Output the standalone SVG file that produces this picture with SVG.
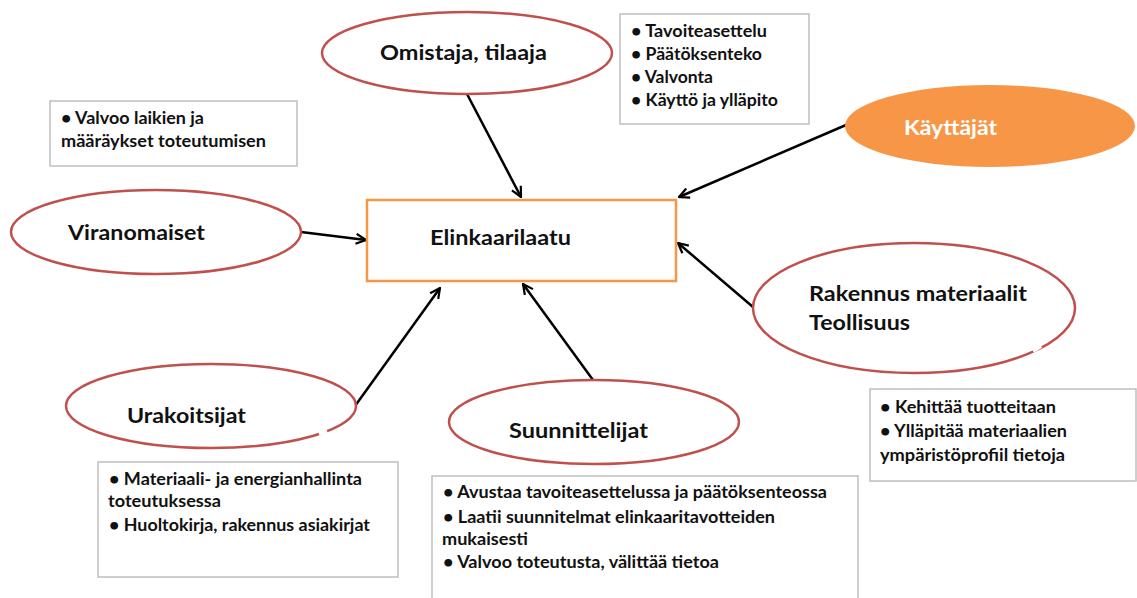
<svg xmlns="http://www.w3.org/2000/svg" width="1137" height="598" viewBox="0 0 1137 598">
  <defs>
    <marker id="open-arrow" viewBox="0 0 12 12" refX="11" refY="6" markerWidth="12" markerHeight="12" markerUnits="userSpaceOnUse" orient="auto">
      <path d="M1,1 L11,6 L1,11" fill="none" stroke="#000" stroke-width="2.2" stroke-linejoin="miter"/>
    </marker>
    <style>
      .actor { fill: #fff; stroke: #C0504D; stroke-width: 2.5; }
      .center { fill: #fff; stroke: #F79646; stroke-width: 2.5; }
      .note { fill: #fff; stroke: #BFBFBF; stroke-width: 1.5; }
      .label { font-family: Lato, "Open Sans", "Liberation Sans", sans-serif; font-weight: bold; font-size: 21px; fill: #111; }
      .small { font-family: Lato, "Open Sans", "Liberation Sans", sans-serif; font-weight: bold; font-size: 16.5px; fill: #111; }
      .link { stroke: #000; stroke-width: 2.5; fill: none; marker-end: url(#open-arrow); }
    </style>
  </defs>

  <rect width="1137" height="598" fill="#fff"/>

  <!-- connectors -->
  <g id="connectors">
    <line class="link" x1="467" y1="94" x2="521" y2="197"/>
    <line class="link" x1="846" y1="125" x2="679" y2="197"/>
    <line class="link" x1="301" y1="232" x2="366" y2="240"/>
    <line class="link" x1="753" y1="307" x2="678" y2="243"/>
    <line class="link" x1="355" y1="406" x2="440" y2="288"/>
    <line class="link" x1="593" y1="380" x2="523" y2="284"/>
  </g>

  <g id="elinkaarilaatu">
    <rect class="center" x="367" y="200" width="309" height="81"/>
    <text class="label" x="430" y="245" textLength="141" lengthAdjust="spacingAndGlyphs">Elinkaarilaatu</text>
  </g>

  <g id="omistaja">
    <ellipse class="actor" cx="467" cy="53" rx="145" ry="41"/>
    <text class="label" x="380" y="60" textLength="167" lengthAdjust="spacingAndGlyphs">Omistaja, tilaaja</text>
  </g>

  <g id="kayttajat">
    <ellipse cx="990" cy="126" rx="145" ry="41" fill="#F79646"/>
    <text class="label" x="904" y="135" style="fill:#fff" textLength="93" lengthAdjust="spacingAndGlyphs">Käyttäjät</text>
  </g>

  <g id="viranomaiset">
    <ellipse class="actor" cx="156" cy="232" rx="145" ry="42"/>
    <text class="label" x="68" y="240" textLength="137" lengthAdjust="spacingAndGlyphs">Viranomaiset</text>
  </g>

  <g id="rakennus">
    <ellipse class="actor" cx="914" cy="308" rx="161" ry="65"/>
    <line x1="1033" y1="351" x2="1041" y2="346" stroke="#fff" stroke-width="4"/>
    <text class="label" x="809" y="301" textLength="218" lengthAdjust="spacingAndGlyphs">Rakennus materiaalit</text>
    <text class="label" x="809" y="330" textLength="101" lengthAdjust="spacingAndGlyphs">Teollisuus</text>
  </g>

  <g id="urakoitsijat">
    <ellipse class="actor" cx="211" cy="406" rx="145" ry="42"/>
    <line x1="319" y1="434" x2="327" y2="431" stroke="#fff" stroke-width="4"/>
    <text class="label" x="127" y="423" textLength="119" lengthAdjust="spacingAndGlyphs">Urakoitsijat</text>
  </g>

  <g id="suunnittelijat">
    <ellipse class="actor" cx="594" cy="422" rx="145" ry="42"/>
    <text class="label" x="509" y="438" textLength="139" lengthAdjust="spacingAndGlyphs">Suunnittelijat</text>
  </g>

  <g id="note-omistaja">
    <rect class="note" x="620" y="14" width="189" height="110"/>
    <text class="small" x="631" y="37" textLength="136" lengthAdjust="spacingAndGlyphs">• Tavoiteasettelu</text>
    <text class="small" x="631" y="60" textLength="131" lengthAdjust="spacingAndGlyphs">• Päätöksenteko</text>
    <text class="small" x="631" y="83" textLength="82" lengthAdjust="spacingAndGlyphs">• Valvonta</text>
    <text class="small" x="631" y="106" textLength="147" lengthAdjust="spacingAndGlyphs">• Käyttö ja ylläpito</text>
  </g>

  <g id="note-viranomaiset">
    <rect class="note" x="50" y="101" width="247" height="65"/>
    <text class="small" x="61" y="124" textLength="143" lengthAdjust="spacingAndGlyphs">• Valvoo laikien ja</text>
    <text class="small" x="61" y="147" textLength="205" lengthAdjust="spacingAndGlyphs">määräykset toteutumisen</text>
  </g>

  <g id="note-rakennus">
    <rect class="note" x="870" y="389" width="266" height="92"/>
    <text class="small" x="880" y="413" textLength="176" lengthAdjust="spacingAndGlyphs">• Kehittää tuotteitaan</text>
    <text class="small" x="880" y="437" textLength="187" lengthAdjust="spacingAndGlyphs">• Ylläpitää materiaalien</text>
    <text class="small" x="880" y="461" textLength="185" lengthAdjust="spacingAndGlyphs">ympäristöprofiil tietoja</text>
  </g>

  <g id="note-urakoitsijat">
    <rect class="note" x="98" y="462" width="300" height="115"/>
    <text class="small" x="109" y="485" textLength="253" lengthAdjust="spacingAndGlyphs">• Materiaali- ja energianhallinta</text>
    <text class="small" x="108" y="507" textLength="113" lengthAdjust="spacingAndGlyphs">toteutuksessa</text>
    <text class="small" x="109" y="531" textLength="261" lengthAdjust="spacingAndGlyphs">• Huoltokirja, rakennus asiakirjat</text>
  </g>

  <g id="note-suunnittelijat">
    <rect class="note" x="432" y="476" width="426" height="140"/>
    <text class="small" x="443" y="498" textLength="384" lengthAdjust="spacingAndGlyphs">• Avustaa tavoiteasettelussa ja päätöksenteossa</text>
    <text class="small" x="443" y="523" textLength="332" lengthAdjust="spacingAndGlyphs">• Laatii suunnitelmat elinkaaritavotteiden</text>
    <text class="small" x="442" y="545" textLength="86" lengthAdjust="spacingAndGlyphs">mukaisesti</text>
    <text class="small" x="443" y="568" textLength="276" lengthAdjust="spacingAndGlyphs">• Valvoo toteutusta, välittää tietoa</text>
  </g>
</svg>
